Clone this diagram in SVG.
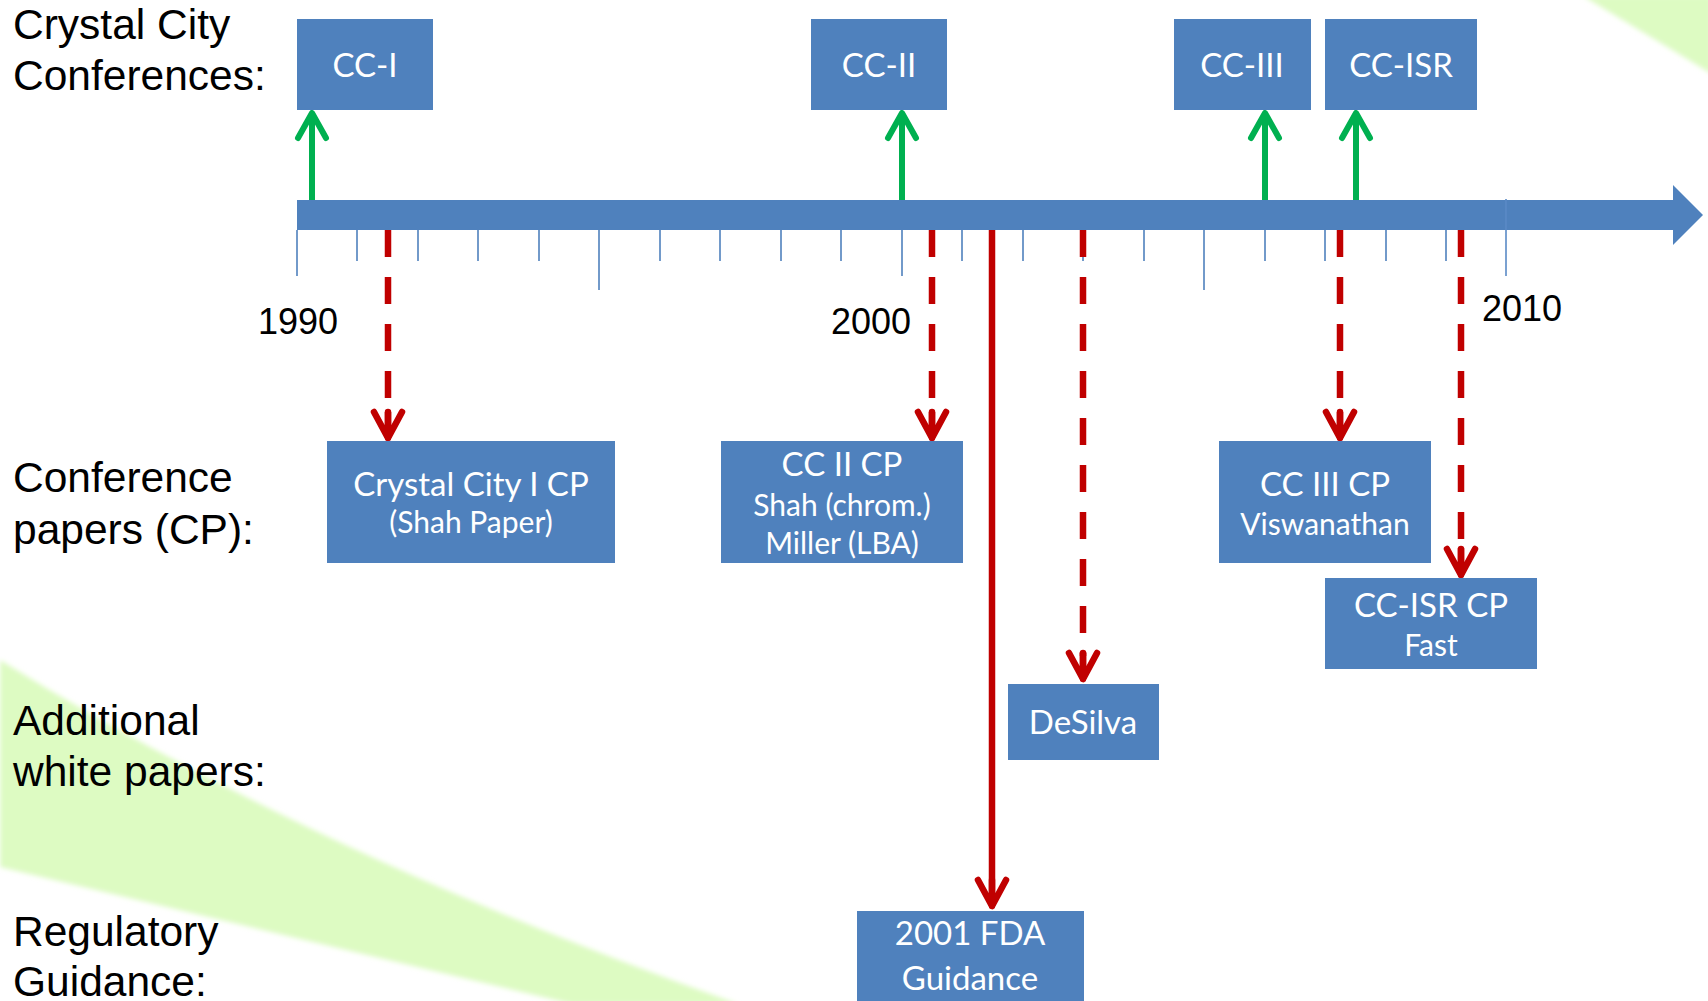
<svg xmlns="http://www.w3.org/2000/svg" width="1708" height="1001" viewBox="0 0 1708 1001">
<style>
.lbl{font-family:"Liberation Sans",Arial,sans-serif;font-size:42.5px;fill:#000}
.yr{font-family:"Liberation Sans",Arial,sans-serif;font-size:36px;fill:#000;text-anchor:middle}
.box{fill:#4F81BD}
.bt{font-family:Lato,"Open Sans",sans-serif;font-size:33px;fill:#fff;text-anchor:middle}
.bs{font-family:Lato,"Open Sans",sans-serif;font-size:30px;fill:#fff;text-anchor:middle}
.tick{stroke:#4F81BD;stroke-width:1.6}
.green{stroke:#00B050;stroke-width:6;fill:none}
.red{stroke:#C00000;stroke-width:6.5;fill:none}
.dash{stroke-dasharray:27 20}
.band{fill:#DDFBC2}
</style>
<defs>
<filter id="soft" x="-10%" y="-10%" width="120%" height="120%"><feGaussianBlur stdDeviation="2.5"/></filter>
<marker id="gh" markerUnits="userSpaceOnUse" orient="auto" refX="0" refY="0" markerWidth="60" markerHeight="60" viewBox="-40 -30 60 60" overflow="visible">
<path d="M-25,-14 L0,0 L-25,14" fill="none" stroke="#00B050" stroke-width="6" stroke-linecap="round" stroke-linejoin="round"/>
</marker>
<marker id="rh" markerUnits="userSpaceOnUse" orient="auto" refX="0" refY="0" markerWidth="60" markerHeight="60" viewBox="-40 -30 60 60" overflow="visible">
<path d="M-26,-14 L0,0 L-26,14 M-26,0 L0,0" fill="none" stroke="#C00000" stroke-width="6.5" stroke-linecap="round" stroke-linejoin="round"/>
</marker>
</defs>
<rect width="1708" height="1001" fill="#fff"/>
<g id="background" filter="url(#soft)">
<path class="band" d="M0,660 Q311,853 738,1004 L572,1004 L0,867 Z"/>
<path class="band" d="M1583,-4 L1712,-4 L1712,74 Z"/>
</g>
<g id="row-labels">
<text class="lbl" x="13" y="39">Crystal City</text>
<text class="lbl" x="13" y="90">Conferences:</text>
<text class="lbl" x="13" y="492">Conference</text>
<text class="lbl" x="13" y="544">papers (CP):</text>
<text class="lbl" x="13" y="735">Additional</text>
<text class="lbl" x="13" y="786">white papers:</text>
<text class="lbl" x="13" y="946">Regulatory</text>
<text class="lbl" x="13" y="996">Guidance:</text>
</g>
<g id="timeline">
<rect class="box" x="297" y="200" width="1377" height="30"/>
<polygon class="box" points="1673,185 1703,215 1673,245"/>
<g id="ticks">
<line class="tick" x1="297" y1="230" x2="297" y2="276"/>
<line class="tick" x1="357" y1="230" x2="357" y2="261"/>
<line class="tick" x1="418" y1="230" x2="418" y2="261"/>
<line class="tick" x1="478" y1="230" x2="478" y2="261"/>
<line class="tick" x1="539" y1="230" x2="539" y2="261"/>
<line class="tick" x1="599" y1="230" x2="599" y2="290"/>
<line class="tick" x1="660" y1="230" x2="660" y2="261"/>
<line class="tick" x1="720" y1="230" x2="720" y2="261"/>
<line class="tick" x1="781" y1="230" x2="781" y2="261"/>
<line class="tick" x1="841" y1="230" x2="841" y2="261"/>
<line class="tick" x1="902" y1="230" x2="902" y2="276"/>
<line class="tick" x1="962" y1="230" x2="962" y2="261"/>
<line class="tick" x1="1023" y1="230" x2="1023" y2="261"/>
<line class="tick" x1="1083" y1="230" x2="1083" y2="261"/>
<line class="tick" x1="1144" y1="230" x2="1144" y2="261"/>
<line class="tick" x1="1204" y1="230" x2="1204" y2="290"/>
<line class="tick" x1="1265" y1="230" x2="1265" y2="261"/>
<line class="tick" x1="1325" y1="230" x2="1325" y2="261"/>
<line class="tick" x1="1386" y1="230" x2="1386" y2="261"/>
<line class="tick" x1="1446" y1="230" x2="1446" y2="261"/>
<line x1="1506" y1="199" x2="1506" y2="276" stroke="#5A8AC6" stroke-width="1.6"/>
</g>
<text class="yr" x="298" y="334">1990</text>
<text class="yr" x="871" y="334">2000</text>
<text class="yr" x="1522" y="321">2010</text>
</g>
<g id="connectors">
<line class="green" x1="312" y1="200" x2="312" y2="113" marker-end="url(#gh)"/>
<line class="green" x1="902" y1="200" x2="902" y2="113" marker-end="url(#gh)"/>
<line class="green" x1="1265" y1="200" x2="1265" y2="113" marker-end="url(#gh)"/>
<line class="green" x1="1356" y1="200" x2="1356" y2="113" marker-end="url(#gh)"/>
<line class="red dash" x1="388" y1="230" x2="388" y2="415"/>
<line class="red" x1="388" y1="412" x2="388" y2="438" stroke-width="0" marker-end="url(#rh)"/>
<line class="red dash" x1="932" y1="230" x2="932" y2="415"/>
<line class="red" x1="932" y1="412" x2="932" y2="438" stroke-width="0" marker-end="url(#rh)"/>
<line class="red dash" x1="1083" y1="230" x2="1083" y2="656"/>
<line class="red" x1="1083" y1="652" x2="1083" y2="679" stroke-width="0" marker-end="url(#rh)"/>
<line class="red dash" x1="1340" y1="230" x2="1340" y2="415"/>
<line class="red" x1="1340" y1="412" x2="1340" y2="438" stroke-width="0" marker-end="url(#rh)"/>
<line class="red dash" x1="1461" y1="230" x2="1461" y2="550"/>
<line class="red" x1="1461" y1="548" x2="1461" y2="575" stroke-width="0" marker-end="url(#rh)"/>
<line class="red" x1="992" y1="230" x2="992" y2="906" marker-end="url(#rh)"/>
</g>
<g id="cc1"><rect class="box" x="297" y="19" width="136" height="91"/><text class="bt" x="365" y="77">CC-I</text></g>
<g id="cc2"><rect class="box" x="811" y="19" width="136" height="91"/><text class="bt" x="879" y="77">CC-II</text></g>
<g id="cc3"><rect class="box" x="1174" y="19" width="137" height="91"/><text class="bt" x="1242" y="77">CC-III</text></g>
<g id="ccisr"><rect class="box" x="1325" y="19" width="152" height="91"/><text class="bt" x="1401" y="77">CC-ISR</text></g>
<g id="cc1cp"><rect class="box" x="327" y="441" width="288" height="122"/><text class="bt" x="471" y="496">Crystal City I CP</text><text class="bs" x="471" y="533">(Shah Paper)</text></g>
<g id="cc2cp"><rect class="box" x="721" y="441" width="242" height="122"/><text class="bt" x="842" y="476">CC II CP</text><text class="bs" x="842" y="516">Shah (chrom.)</text><text class="bs" x="842" y="554">Miller (LBA)</text></g>
<g id="cc3cp"><rect class="box" x="1219" y="441" width="212" height="122"/><text class="bt" x="1325" y="496">CC III CP</text><text class="bs" x="1325" y="535">Viswanathan</text></g>
<g id="ccisrcp"><rect class="box" x="1325" y="578" width="212" height="91"/><text class="bt" x="1431" y="617">CC-ISR CP</text><text class="bs" x="1431" y="656">Fast</text></g>
<g id="desilva"><rect class="box" x="1008" y="684" width="151" height="76"/><text class="bt" x="1083" y="734">DeSilva</text></g>
<g id="fda"><rect class="box" x="857" y="911" width="227" height="95"/><text class="bt" x="970" y="945">2001 FDA</text><text class="bt" x="970" y="990">Guidance</text></g>
</svg>
